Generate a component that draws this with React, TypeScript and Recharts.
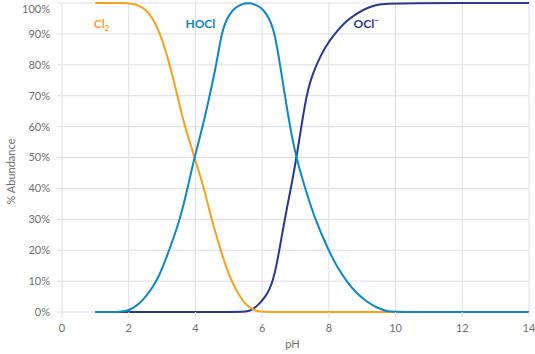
import React from 'react';
import { LineChart, Line, XAxis, YAxis, CartesianGrid, ReferenceDot } from 'recharts';

const cl2PH = [1, 1.8, 2.1, 2.3, 2.54, 2.75, 2.93, 3.08, 3.23, 3.46, 3.68, 3.85, 3.97, 4.1, 4.26, 4.48, 4.76, 4.92, 5.09, 5.3, 5.5, 5.7, 5.9, 6.05, 8, 14];
const cl2Val = [100, 100, 99.8, 99.2, 97.7, 94.5, 90.2, 85.5, 80, 70, 60, 54.5, 50, 45.5, 40, 30, 20, 14.5, 9.8, 5.5, 2.5, 0.8, 0.15, 0, 0, 0];

const hoclPH = [1, 1.7, 1.9, 2.1, 2.33, 2.53, 2.73, 2.9, 3.03, 3.28, 3.53, 3.73, 3.97, 4.23, 4.43, 4.63, 4.78, 4.9, 5.03, 5.2, 5.4, 5.58, 5.76, 5.96, 6.13, 6.26, 6.38, 6.53, 6.68, 6.83, 7.02, 7.29, 7.59, 7.99, 8.25, 8.54, 8.85, 9.14, 9.45, 9.75, 10, 14];
const hoclVal = [0, 0, 0.2, 1, 2.8, 5.2, 8.2, 11.5, 14.7, 22, 29.8, 38.4, 50, 60.5, 70.2, 80.2, 90, 93.8, 96.5, 98.6, 99.7, 100, 99.7, 98.6, 96.5, 93.8, 90, 80.5, 70.2, 60.2, 50, 40, 29.8, 20, 14.5, 9.8, 5.8, 3.3, 1.3, 0.2, 0, 0];

const ocPH = [1, 5.3, 5.5, 5.7, 5.93, 6.1, 6.23, 6.33, 6.43, 6.53, 6.63, 6.73, 6.88, 7.03, 7.18, 7.33, 7.45, 7.63, 7.9, 8.19, 8.5, 8.84, 9.2, 9.54, 10, 14];
const ocVal = [0, 0, 0.1, 0.6, 2.8, 5, 7.5, 10.5, 15, 21, 27, 33, 41, 50, 60.5, 70, 75, 80.2, 86, 90.2, 94, 96.7, 98.7, 99.7, 100, 100];

const xTicks = [0, 2, 4, 6, 8, 10, 12, 14];
const yTicks = [0, 10, 20, 30, 40, 50, 60, 70, 80, 90, 100];

const zip = (xs: number[], ys: number[]) => xs.map((x, i) => ({ x, y: ys[i] }));
const cl2Data = zip(cl2PH, cl2Val);
const hoclData = zip(hoclPH, hoclVal);
const ocData = zip(ocPH, ocVal);

const ORANGE = '#F7A11C';
const BLUE = '#0C87C8';
const NAVY = '#28398D';
const GRID = '#DDDDE8';
const TICK = '#6E6E6E';
const FONT = 'Lato, "Open Sans", sans-serif';

const YTick = (props: any) => {
  const { x, y, payload } = props;
  const yy = Math.max(y, 7);
  return (
    <text x={x} y={yy} dy="0.355em" textAnchor="end" fill={TICK} fontSize={11} fontFamily={FONT}>
      {payload.value}%
    </text>
  );
};

const makeLabel = (main: string, color: string, sub?: string, sup?: string) => (props: any) => {
  const vb = props.viewBox || {};
  const x = vb.cx ?? vb.x;
  const y = vb.cy ?? vb.y;
  return (
    <text x={x} y={y} fill={color} fontSize={12} fontWeight={700} fontFamily={FONT}>
      {main}
      {sub ? <tspan fontSize={8} dy={3}>{sub}</tspan> : null}
      {sup ? <tspan fontSize={8} dy={-5}>{sup}</tspan> : null}
    </text>
  );
};

const YLabel = (props: any) => {
  const vb = props.viewBox;
  const cx = 10;
  const cy = vb.y + vb.height / 2 + 14;
  return (
    <text x={cx} y={cy} transform={`rotate(-90, ${cx}, ${cy})`} textAnchor="middle" dominantBaseline="central" fill={TICK} fontSize={11} fontFamily={FONT}>
      % Abundance
    </text>
  );
};

export default function App() {
  return (
    <div style={{ position: 'absolute', left: 0, top: 0, background: '#fff' }}>
      <LineChart width={535} height={354} margin={{ top: 3, right: 6, bottom: 12, left: 0 }}>
        <CartesianGrid stroke={GRID} strokeWidth={1} />
        <XAxis
          type="number"
          dataKey="x"
          domain={[0, 14]}
          ticks={xTicks}
          height={30}
          axisLine={false}
          tickLine={{ stroke: GRID }}
          tickSize={6}
          tickMargin={6}
          tick={{ fill: TICK, fontSize: 11, fontFamily: FONT }}
          label={{ value: 'pH', position: 'bottom', offset: -2, dx: -3, fill: TICK, fontSize: 11, fontFamily: FONT }}
          allowDuplicatedCategory={false}
        />
        <YAxis
          type="number"
          domain={[0, 100]}
          ticks={yTicks}
          width={62}
          axisLine={false}
          tickLine={{ stroke: GRID }}
          tickSize={5}
          tickMargin={7}
          tick={<YTick />}
          label={<YLabel />}
        />
        <Line data={ocData} dataKey="y" type="basis" stroke={NAVY} strokeWidth={2} dot={false} isAnimationActive={false} />
        <Line data={cl2Data} dataKey="y" type="basis" stroke={ORANGE} strokeWidth={2} dot={false} isAnimationActive={false} />
        <Line data={hoclData} dataKey="y" type="basis" stroke={BLUE} strokeWidth={2} dot={false} isAnimationActive={false} />
        <ReferenceDot x={0.95} y={91.9} r={0} fill="none" stroke="none" label={makeLabel('Cl', ORANGE, '2')} />
        <ReferenceDot x={3.7} y={92} r={0} fill="none" stroke="none" label={makeLabel('HOCl', BLUE)} />
        <ReferenceDot x={8.74} y={92} r={0} fill="none" stroke="none" label={makeLabel('OCl', NAVY, undefined, '−')} />
      </LineChart>
    </div>
  );
}
